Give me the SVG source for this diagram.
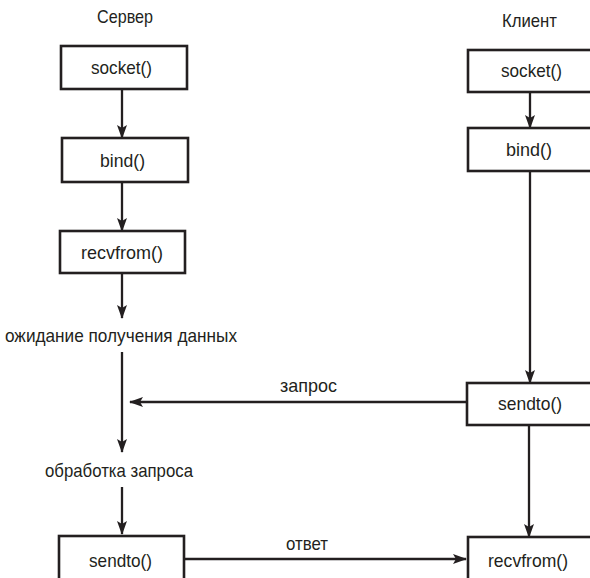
<svg xmlns="http://www.w3.org/2000/svg" width="590" height="578" viewBox="0 0 590 578">
<defs>
<style>
.box{fill:#fff;stroke:#231f20;stroke-width:2.6}
.ln{stroke:#231f20;stroke-width:2.3;fill:none;marker-end:url(#ah)}
text{font-family:"Liberation Sans Narrow","Liberation Sans",Arial,sans-serif;font-size:19px;fill:#231f20}
</style>
<marker id="ah" markerUnits="userSpaceOnUse" markerWidth="14" markerHeight="10" viewBox="0 0 14 10" refX="13" refY="5" orient="auto">
<path d="M0,0 L14,5 L0,10 L3,5 z" fill="#231f20"/>
</marker>
</defs>
<rect width="590" height="578" fill="#fff"/>
<g id="labels">
<text x="97" y="23" textLength="56" lengthAdjust="spacingAndGlyphs">Сервер</text>
<text x="502" y="27" textLength="55" lengthAdjust="spacingAndGlyphs">Клиент</text>
</g>
<g id="connectors">
<line class="ln" x1="122" y1="89" x2="122" y2="138"/>
<line class="ln" x1="122" y1="182" x2="122" y2="231"/>
<line class="ln" x1="122" y1="273" x2="122" y2="318"/>
<line class="ln" x1="122" y1="352" x2="122" y2="452"/>
<line class="ln" x1="122" y1="487" x2="122" y2="534"/>
<line class="ln" x1="530" y1="92" x2="530" y2="128"/>
<line class="ln" x1="530" y1="171" x2="530" y2="383"/>
<line class="ln" x1="529" y1="425" x2="529" y2="537"/>
<line class="ln" x1="467" y1="402" x2="130" y2="402"/>
<line class="ln" x1="184" y1="559" x2="466" y2="559"/>
<text x="280" y="392" textLength="57" lengthAdjust="spacingAndGlyphs">запрос</text>
<text x="286" y="550" textLength="42" lengthAdjust="spacingAndGlyphs">ответ</text>
</g>
<g id="s-socket"><rect class="box" x="61" y="46" width="126" height="43"/><text x="91" y="74" textLength="61" lengthAdjust="spacingAndGlyphs">socket()</text></g>
<g id="s-bind"><rect class="box" x="62" y="138" width="126" height="44"/><text x="100" y="167" textLength="45" lengthAdjust="spacingAndGlyphs">bind()</text></g>
<g id="s-recvfrom"><rect class="box" x="60" y="231" width="125" height="42"/><text x="81" y="259" textLength="82" lengthAdjust="spacingAndGlyphs">recvfrom()</text></g>
<g id="s-wait"><text x="5" y="342" textLength="232" lengthAdjust="spacingAndGlyphs">ожидание получения данных</text></g>
<g id="s-process"><text x="45" y="477" textLength="148" lengthAdjust="spacingAndGlyphs">обработка запроса</text></g>
<g id="s-sendto"><rect class="box" x="59" y="536" width="125" height="50"/><text x="89" y="567" textLength="63" lengthAdjust="spacingAndGlyphs">sendto()</text></g>
<g id="c-socket"><rect class="box" x="468" y="50" width="126" height="42"/><text x="501" y="77" textLength="61" lengthAdjust="spacingAndGlyphs">socket()</text></g>
<g id="c-bind"><rect class="box" x="468" y="128" width="126" height="43"/><text x="506" y="156" textLength="46" lengthAdjust="spacingAndGlyphs">bind()</text></g>
<g id="c-sendto"><rect class="box" x="467" y="383" width="126" height="42"/><text x="498" y="410" textLength="64" lengthAdjust="spacingAndGlyphs">sendto()</text></g>
<g id="c-recvfrom"><rect class="box" x="468" y="537" width="126" height="50"/><text x="488" y="567" textLength="80" lengthAdjust="spacingAndGlyphs">recvfrom()</text></g>
</svg>
